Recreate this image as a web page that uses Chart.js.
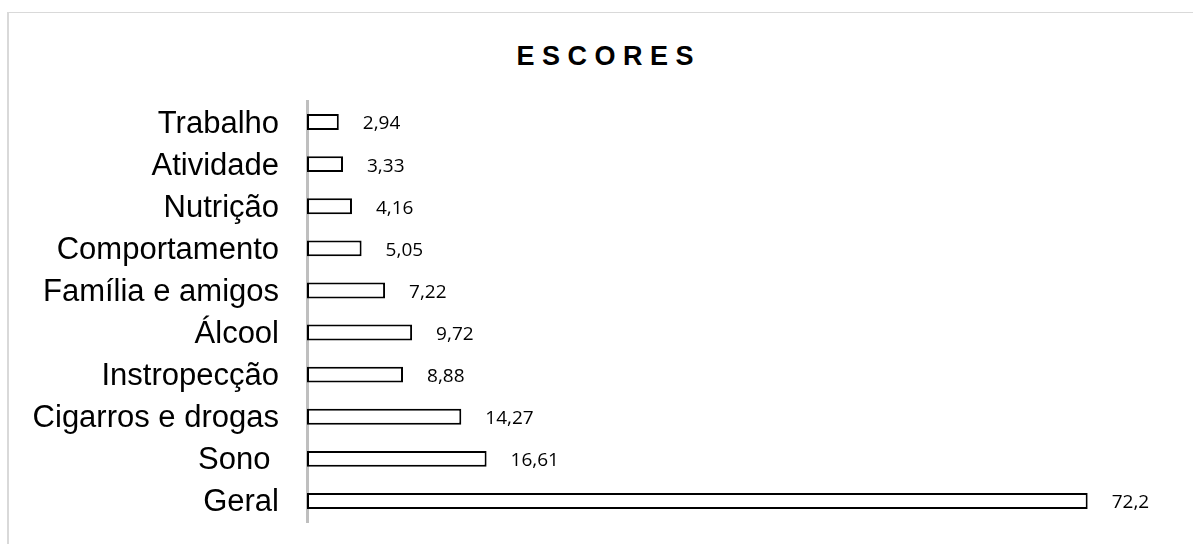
<!DOCTYPE html>
<html>
<head>
<meta charset="utf-8">
<script src="https://cdn.jsdelivr.net/npm/chart.js@4/dist/chart.umd.min.js"></script>
<style>
  body { margin: 0; background: #fff; }
  #wrap { position: relative; width: 1193px; height: 544px; overflow: hidden; }
  #frame { position: absolute; left: 7px; top: 12px; width: 1300px; height: 600px;
           border-top: 1px solid #d9d9d9; border-left: 2px solid #d9d9d9; }
  #title { position: absolute; left: 0; top: 43px; width: 1210px; text-align: center;
           font: bold 27px "Liberation Sans", Arial, sans-serif; line-height: 27px;
           letter-spacing: 7.5px; padding-left: 7.5px; box-sizing: border-box; color: #000; }
  canvas { position: absolute; left: 0; top: 0; }
</style>
</head>
<body>
<div id="wrap">
  <div id="frame"></div>
  <div id="title">ESCORES</div>
  <canvas id="escoresChart" width="1193" height="544"></canvas>
</div>
<script>
// categories top to bottom
const categories = ['Trabalho', 'Atividade', 'Nutrição', 'Comportamento', 'Família e amigos',
                    'Álcool', 'Instropecção', 'Cigarros e drogas', 'Sono ', 'Geral'];
const scores = [2.94, 3.33, 4.16, 5.05, 7.22, 9.72, 8.88, 14.27, 16.61, 72.2];
const axisMin = 0;
const axisMax = 80;

// value labels next to the bars, written with a comma
const valueLabels = {
    id: 'valueLabels',
    afterDatasetsDraw(chart) {
        const ctx = chart.ctx;
        const meta = chart.getDatasetMeta(0);
        ctx.save();
        ctx.font = '19px "Open Sans", sans-serif';
        ctx.fillStyle = '#000';
        ctx.textAlign = 'left';
        ctx.textBaseline = 'middle';
        meta.data.forEach((bar, i) => {
            const txt = String(scores[i]).replace('.', ',');
            ctx.fillText(txt, bar.x + 24, bar.y + 2);
        });
        ctx.restore();
    }
};

const ctx = document.getElementById('escoresChart').getContext('2d');
const escoresChart = new Chart(ctx, {
    type: 'bar',
    data: {
        labels: categories,
        datasets: [{
            data: scores,
            backgroundColor: '#ffffff',
            borderColor: '#000000',
            borderWidth: 2,
            borderSkipped: false,
            barPercentage: 0.9,
            categoryPercentage: 0.42
        }]
    },
    options: {
        indexAxis: 'y',
        responsive: false,
        animation: false,
        layout: { padding: { top: 101, bottom: 22, right: 21, left: 0 } },
        plugins: {
            legend: { display: false },
            title: { display: false },
            tooltip: { enabled: false }
        },
        scales: {
            x: {
                display: false,
                min: axisMin,
                max: axisMax
            },
            y: {
                z: 1,
                grid: { display: false, drawTicks: false },
                border: { display: true, color: '#bfbfbf', width: 3 },
                ticks: {
                    padding: 28,
                    labelOffset: 2,
                    color: '#000',
                    font: { family: '"Liberation Sans", Arial, sans-serif', size: 31 }
                },
                afterFit(scale) {
                    scale.width = 307;
                    scale.paddingTop = 0;
                    scale.paddingBottom = 0;
                }
            }
        }
    },
    plugins: [valueLabels]
});
</script>
</body>
</html>
